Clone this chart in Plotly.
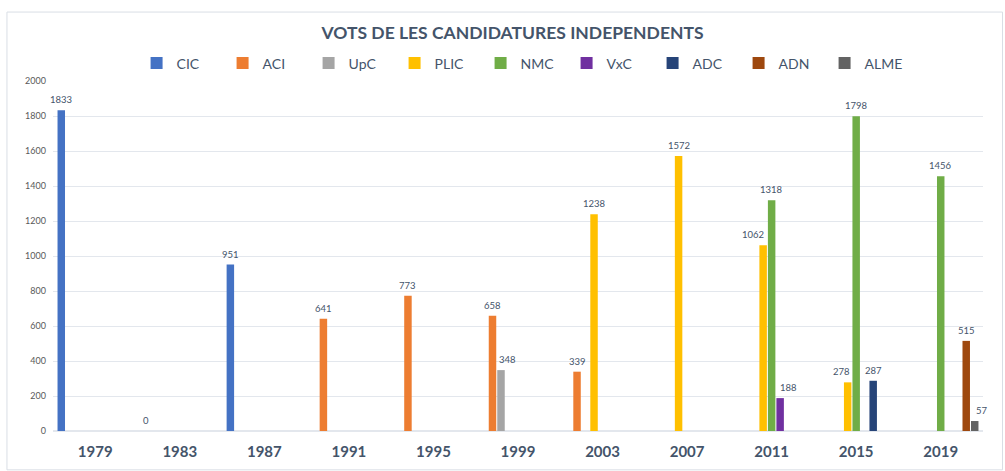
import plotly.graph_objects as go

years = ["1979", "1983", "1987", "1991", "1995", "1999", "2003", "2007", "2011", "2015", "2019"]
series_names = ["CIC", "ACI", "UpC", "PLIC", "NMC", "VxC", "ADC", "ADN", "ALME"]
CIC = [1833, 0, 951, None, None, None, None, None, None, None, None]
ACI = [None, None, None, 641, 773, 658, 339, None, None, None, None]
UpC = [None, None, None, None, None, 348, None, None, None, None, None]
PLIC = [None, None, None, None, None, None, 1238, 1572, 1062, 278, None]
NMC = [None, None, None, None, None, None, None, None, 1318, 1798, 1456]
VxC = [None, None, None, None, None, None, None, None, 188, None, None]
ADC = [None, None, None, None, None, None, None, None, None, 287, None]
ADN = [None, None, None, None, None, None, None, None, None, None, 515]
ALME = [None, None, None, None, None, None, None, None, None, None, 57]
colors = ["#4472C4", "#ED7D31", "#A5A5A5", "#FFC000", "#70AD47", "#7030A0", "#264478", "#9E480E", "#636363"]

data = [CIC, ACI, UpC, PLIC, NMC, VxC, ADC, ADN, ALME]

# label nudges (pixels) where the original moved labels aside to avoid overlap
label_nudge = {("UpC", "1999"): 7, ("PLIC", "2011"): -10, ("PLIC", "2015"): -6,
               ("VxC", "2011"): 8, ("ALME", "2019"): 7}

W, H = 1005, 471
ML, MR, MT, MB = 53, 22, 81, 40
bargap, groupgap = 0.095, 0.12
cat_px = (W - ML - MR) / len(years)
slot_px = cat_px * (1 - bargap) / len(series_names)

fig = go.Figure()
annotations = []
for i, (name, vals, col) in enumerate(zip(series_names, data, colors)):
    fig.add_trace(go.Bar(
        x=years, y=vals, name=name,
        marker=dict(color=col, line=dict(width=0)),
    ))
    for j, (yr, v) in enumerate(zip(years, vals)):
        if v is None:
            continue
        annotations.append(dict(
            x=j, y=v, xref="x", yref="y", text=str(v), showarrow=False,
            xanchor="center", yanchor="bottom",
            xshift=(i - (len(series_names) - 1) / 2) * slot_px + label_nudge.get((name, yr), 0),
            yshift=3,
            font=dict(size=9.5, color="#44546A", family="Lato"),
        ))

fig.update_layout(
    width=W, height=H,
    barmode="group", bargap=bargap, bargroupgap=groupgap,
    paper_bgcolor="white", plot_bgcolor="white",
    margin=dict(l=ML, r=MR, t=MT, b=MB, autoexpand=False),
    font=dict(family="Lato", color="#44546A"),
    title=dict(text="<b>VOTS DE LES CANDIDATURES INDEPENDENTS</b>",
               x=0.51, xanchor="center", y=0.93, yanchor="middle",
               font=dict(size=17.5, color="#44546A", family="Lato")),
    legend=dict(orientation="h", x=0.506, xanchor="center", y=1.05, yanchor="middle",
                font=dict(size=14, color="#44546A", family="Lato"),
                entrywidth=41, entrywidthmode="pixels", itemwidth=30,
                traceorder="normal", bgcolor="rgba(0,0,0,0)"),
    xaxis=dict(type="category", range=[-0.5, len(years) - 0.5], showgrid=False, showline=False,
               ticks="", automargin=False, ticklabelstandoff=10,
               tickfont=dict(size=15, color="#44546A", family="Lato", weight="bold")),
    yaxis=dict(range=[0, 2000], dtick=200, showgrid=True, gridcolor="#E3E7ED", gridwidth=1,
               zeroline=True, zerolinecolor="#E3E7ED", showline=False, ticks="", automargin=False,
               tickfont=dict(size=9, color="#595959", family="Lato"), ticklabelstandoff=6),
    annotations=annotations,
    shapes=[dict(type="rect", xref="paper", yref="paper", x0=-0.0495, x1=1.021, y0=-0.111, y1=1.197,
                 line=dict(color="#D9DEE5", width=1), fillcolor="rgba(0,0,0,0)", layer="below")],
)

fig.write_html("out.html", config={"displayModeBar": False},
               post_script="document.body.style.margin='0px';")
